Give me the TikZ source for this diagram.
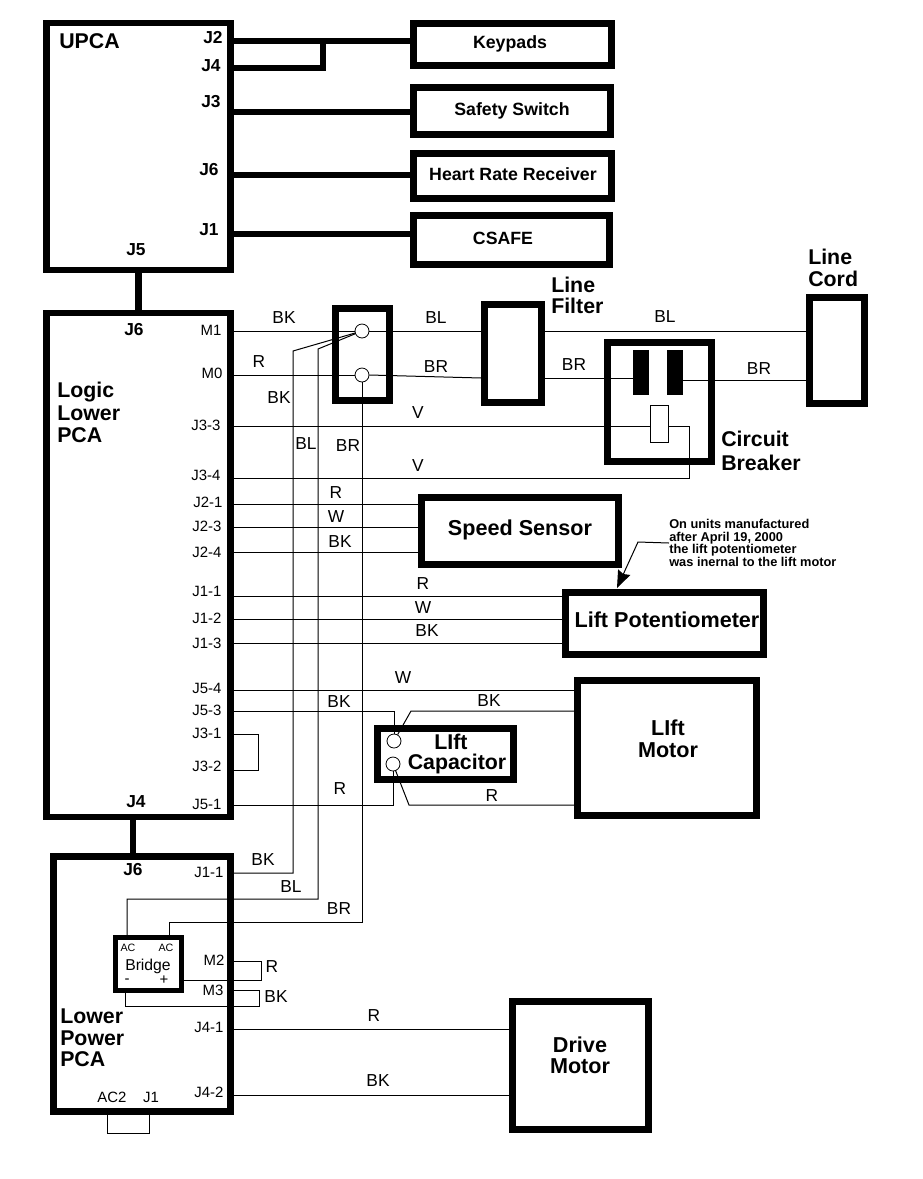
\documentclass[tikz,border=0pt]{standalone}
\usepackage{fontspec}
\setmainfont{Liberation Sans}
\usetikzlibrary{arrows.meta,shapes}

\tikzset{
  boxsize/.style 2 args={minimum width=#1*0.75pt,minimum height=#2*0.75pt},
  blockbox/.style={draw=black,line width=5pt,inner sep=0pt},
  smalltext/.style={inner sep=0pt,font=\bfseries\fontsize{13.3}{15.5}\selectfont},
  largetext/.style={inner sep=0pt,align=center,font=\bfseries\fontsize{16.2}{16}\selectfont},
  slot/.style={fill=black,draw=none,inner sep=0pt},
  terminal/.style={circle,draw=black,fill=white,line width=0.6pt,inner sep=0pt,minimum size=10.5pt},
  wire/.style={draw=black,line width=0.75pt},
  busline/.style={draw=black,line width=5pt},
  pinlabel/.style={inner sep=0pt,font=\fontsize{11.2}{11}\selectfont},
  jacklabel/.style={inner sep=0pt,font=\bfseries\fontsize{13}{13}\selectfont},
  wirelabel/.style={inner sep=0pt,font=\fontsize{13}{13}\selectfont},
  titlelabel/.style={inner sep=0pt,anchor=west,align=left,font=\bfseries\fontsize{16}{16}\selectfont}
}

\begin{document}
\begin{tikzpicture}[x=0.75pt,y=-0.75pt]
    \useasboundingbox (0,0) rectangle (922,1179);

    % left hand boards
    \node(upca)[blockbox,boxsize={184}{247}] at (138.5,146.5) {};
    \node(logic)[blockbox,boxsize={184}{504}] at (138.5,565) {};
    \node(lower)[blockbox,boxsize={177}{255}] at (142,984) {};
    \node(bridge)[blockbox,line width=3.5pt,boxsize={66}{53}] at (148.5,964) {};

    % upper right boxes
    \node(keypads)[blockbox,boxsize={198}{42}] at (512.5,44.5) {};
    \node(safety)[blockbox,boxsize={197}{47}] at (512,111) {};
    \node(heart)[blockbox,boxsize={198}{45}] at (512.5,176) {};
    \node(csafe)[blockbox,boxsize={196}{49}] at (511.5,240) {};
    \node(keypadsl)[smalltext] at (510,44) {Keypads};
    \node(safetyl)[smalltext] at (512,110.5) {Safety Switch};
    \node(heartl)[smalltext] at (513,174) {Heart Rate Receiver};
    \node(csafel)[smalltext] at (503,238) {CSAFE};

    % power entry parts
    \node(switch)[blockbox,boxsize={54}{92}] at (362.5,354.5) {};
    \node(sw1)[terminal] at (362,331) {};
    \node(sw2)[terminal] at (362,375) {};
    \node(filter)[blockbox,boxsize={57}{98}] at (513,353.5) {};
    \node(breaker)[blockbox,boxsize={104}{119}] at (659.5,402) {};
    \node(slotl)[slot,boxsize={16}{45}] at (641,372.5) {};
    \node(slotr)[slot,boxsize={16}{45}] at (675,372.5) {};
    \node(fuse)[draw=black,line width=0.75pt,inner sep=0pt,boxsize={18}{37}] at (659,423.5) {};
    \node(cord)[blockbox,boxsize={55.5}{106}] at (837,350.5) {};

    % sensors and motors
    \node(speed)[blockbox,boxsize={197}{67}] at (520,531) {};
    \node(pot)[blockbox,boxsize={198}{62}] at (664.5,623.5) {};
    \node(liftmotor)[blockbox,boxsize={179}{135}] at (667,748) {};
    \node(cap)[blockbox,boxsize={136}{51}] at (445.5,754) {};
    \node(cap1)[terminal] at (394,741) {};
    \node(cap2)[terminal] at (393,764) {};
    \node(drive)[blockbox,boxsize={136}{128}] at (580.5,1065.5) {};
    \node(speedl)[largetext] at (520,530) {Speed Sensor};
    \node(potl)[largetext] at (667,620) {Lift Potentiometer};
    \node(liftmotorl)[largetext] at (668,739) {LIft\\[0.5pt]Motor};
    \node(drivel)[largetext] at (580,1055.5) {Drive\\Motor};

    % board titles
    \node(upcal)[titlelabel] at (59,41) {UPCA};
    \node(logicl)[titlelabel] at (57,412.5) {Logic\\[0.8pt]Lower\\[0.8pt]PCA};
    \node(lowerl)[titlelabel] at (60,1038) {Lower\\Power\\PCA};
    \node(filterl)[titlelabel] at (551,295.5) {Line\\Filter};
    \node(cordl)[titlelabel] at (808,268) {Line\\Cord};
    \node(breakerl)[titlelabel] at (721,450.5) {Circuit\\[2pt]Breaker};
    \node(capl)[titlelabel,anchor=center,align=center] at (457,754) {LIft\hspace*{9pt}\\[-1pt]Capacitor};

    % jack names
    \node(j2)[jacklabel] at (213,38) {J2};
    \node(j4)[jacklabel] at (211,66) {J4};
    \node(j3)[jacklabel] at (211,102) {J3};
    \node(j6)[jacklabel] at (209,170) {J6};
    \node(j1)[jacklabel] at (209,230) {J1};
    \node(j5)[jacklabel] at (136,250) {J5};
    \node(lj6)[jacklabel] at (134,330) {J6};
    \node(lj4)[jacklabel] at (136,802) {J4};
    \node(pj6)[jacklabel] at (133,870) {J6};

    % logic board pins
    \node(m1)[pinlabel] at (211,330) {M1};
    \node(m0)[pinlabel] at (212,373) {M0};
    \node(j33)[pinlabel] at (206,425) {J3-3};
    \node(j34)[pinlabel] at (206,475) {J3-4};
    \node(j21)[pinlabel] at (208,502) {J2-1};
    \node(j23)[pinlabel] at (207,526) {J2-3};
    \node(j24)[pinlabel] at (207,552) {J2-4};
    \node(j11)[pinlabel] at (207,591) {J1-1};
    \node(j12)[pinlabel] at (207,618) {J1-2};
    \node(j13)[pinlabel] at (207,643) {J1-3};
    \node(j54)[pinlabel] at (207,688) {J5-4};
    \node(j53)[pinlabel] at (207,710) {J5-3};
    \node(j31)[pinlabel] at (207,733) {J3-1};
    \node(j32)[pinlabel] at (207,766) {J3-2};
    \node(j51)[pinlabel] at (207,804) {J5-1};

    % lower board pins
    \node(pj11)[pinlabel] at (209,872) {J1-1};
    \node(m2)[pinlabel] at (214,960) {M2};
    \node(m3)[pinlabel] at (213,990) {M3};
    \node(pj41)[pinlabel] at (209,1027) {J4-1};
    \node(pj42)[pinlabel] at (209,1092) {J4-2};
    \node(ac2)[pinlabel] at (112,1097) {AC2};
    \node(pj1)[pinlabel] at (151,1097) {J1};

    % bridge markings
    \node(acl)[pinlabel,font=\fontsize{8}{8}\selectfont] at (128,948) {AC};
    \node(acr)[pinlabel,font=\fontsize{8}{8}\selectfont] at (166,948) {AC};
    \node(bridgel)[pinlabel,font=\fontsize{11.8}{11}\selectfont] at (148,966) {Bridge};
    \node(minus)[pinlabel] at (127,981) {-};
    \node(plus)[pinlabel] at (164,980) {+};

    % thick links
    \coordinate(busj2) at (233,41);
    \coordinate(busj4) at (233,68);
    \coordinate(busj3) at (233,112);
    \coordinate(busj6) at (233,175);
    \coordinate(busj1) at (233,234);
    \coordinate(j4end) at (323,68);
    \path[busline](busj2) -- (keypads.west |- busj2);
    \path[busline](busj4) -- (j4end) -- (j4end |- busj2);
    \path[busline](busj3) -- (safety.west |- busj3);
    \path[busline](busj6) -- (heart.west |- busj6);
    \path[busline](busj1) -- (csafe.west |- busj1);
    \path[busline](upca.south) -- (upca.south |- logic.north);
    \coordinate(linkj4) at (133,820);
    \path[busline](linkj4) -- (linkj4 |- lower.north);

    % mains wiring
    \coordinate(m1p) at (233,331);
    \coordinate(m0p) at (233,375);
    \coordinate(filterbl) at (481,331);
    \coordinate(filterbr) at (545,378);
    \coordinate(cordbr) at (806,380);
    \path[wire](m1p) -- (sw1);
    \path[wire](m0p) -- (sw2);
    \path[wire](sw1) -- (filterbl);
    \path[wire](sw2.east) -- (filter.west |- filterbr);
    \path[wire](filter.east |- filterbl) -- (cord.west |- filterbl);
    \path[wire](filterbr) -- (slotl.west |- filterbr);
    \path[wire](slotr.east |- cordbr) -- (cordbr);

    % breaker trip wires
    \coordinate(j33p) at (233,426);
    \coordinate(j34p) at (233,478);
    \coordinate(fuseend) at (689,426);
    \path[wire](j33p) -- (fuse.west |- j33p);
    \path[wire](fuse.east |- j33p) -- (fuseend) -- (fuseend |- j34p) -- (j34p);

    % speed sensor and potentiometer
    \coordinate(j21p) at (233,504);
    \coordinate(j23p) at (233,527);
    \coordinate(j24p) at (233,552);
    \coordinate(j11p) at (233,596);
    \coordinate(j12p) at (233,619);
    \coordinate(j13p) at (233,643);
    \path[wire](j21p) -- (speed.west |- j21p);
    \path[wire](j23p) -- (speed.west |- j23p);
    \path[wire](j24p) -- (speed.west |- j24p);
    \path[wire](j11p) -- (pot.west |- j11p);
    \path[wire](j12p) -- (pot.west |- j12p);
    \path[wire](j13p) -- (pot.west |- j13p);

    % lift motor and capacitor
    \coordinate(j54p) at (233,690);
    \coordinate(j53p) at (233,711);
    \coordinate(j51p) at (233,805);
    \coordinate(j31p) at (233,734);
    \coordinate(j32p) at (233,770);
    \coordinate(j3loop) at (258,734);
    \coordinate(capbk) at (411,711);
    \coordinate(capr) at (409,805);
    \path[wire](j54p) -- (liftmotor.west |- j54p);
    \path[wire](j53p) -- (j53p -| cap1) -- (cap1);
    \path[wire](j51p) -- (j51p -| cap2) -- (cap2);
    \path[wire](liftmotor.west |- capbk) -- (capbk) -- (cap1);
    \path[wire](liftmotor.west |- capr) -- (capr) -- (cap2);
    \path[wire](j31p) -- (j3loop) -- (j3loop |- j32p) -- (j32p);

    % feeds from the power board
    \coordinate(bktop) at (293,351);
    \coordinate(pj11p) at (234,873);
    \coordinate(bltop) at (318,349);
    \coordinate(blbot) at (318,899);
    \coordinate(brbot) at (362,922);
    \coordinate(acin1) at (127,935);
    \coordinate(acin2) at (169,935);
    \path[wire](pj11p) -- (pj11p -| bktop) -- (bktop) -- (sw1);
    \path[wire](acin1) -- (acin1 |- blbot) -- (blbot) -- (bltop) -- (sw1);
    \path[wire](acin2) -- (acin2 |- brbot) -- (brbot) -- (sw2);

    % bridge to the board
    \coordinate(m2p) at (234,961);
    \coordinate(m2end) at (261,961);
    \coordinate(m2back) at (261,980);
    \coordinate(m3p) at (234,990);
    \coordinate(m3end) at (259,990);
    \coordinate(m3back) at (259,1006);
    \coordinate(bridgeneg) at (125,993);
    \path[wire](m2p) -- (m2end) -- (m2back) -- (bridge.east |- m2back);
    \path[wire](m3p) -- (m3end) -- (m3back) -- (bridgeneg |- m3back) -- (bridgeneg);

    % drive motor and the AC2 stub
    \coordinate(pj41p) at (234,1029);
    \coordinate(pj42p) at (234,1095);
    \coordinate(stubl) at (107,1133);
    \coordinate(stubr) at (149,1133);
    \path[wire](pj41p) -- (drive.west |- pj41p);
    \path[wire](pj42p) -- (drive.west |- pj42p);
    \path[wire](stubl |- lower.south) -- (stubl) -- (stubr) -- (stubr |- lower.south);

    % note on the potentiometer
    \node(note)[inner sep=0pt,anchor=west,align=left,font=\bfseries\fontsize{9.6}{9.4}\selectfont] at (669,543) {On units manufactured\\after April 19, 2000\\the lift potentiometer\\was inernal to the lift motor};
    \coordinate(notebend) at (638,542);
    \coordinate(notetip) at (617,588);
    \path[draw=black,line width=0.75pt,-{Stealth[length=13pt,width=10pt,inset=1.5pt]}](note.west) -- (notebend) -- (notetip);

    % wire colours
    \node(wbk1)[wirelabel] at (284,318) {BK};
    \node(wbl1)[wirelabel] at (436,318) {BL};
    \node(wr1)[wirelabel] at (259,362) {R};
    \node(wbr1)[wirelabel] at (436,367) {BR};
    \node(wbk2)[wirelabel] at (279,398) {BK};
    \node(wbl2)[wirelabel] at (306,444) {BL};
    \node(wbr2)[wirelabel] at (348,446) {BR};
    \node(wv1)[wirelabel] at (418,413) {V};
    \node(wv2)[wirelabel] at (418,466) {V};
    \node(wr2)[wirelabel] at (336,493) {R};
    \node(ww1)[wirelabel] at (336,517) {W};
    \node(wbk3)[wirelabel] at (340,542) {BK};
    \node(wbl3)[wirelabel] at (665,317) {BL};
    \node(wbr3)[wirelabel] at (574,365) {BR};
    \node(wbr4)[wirelabel] at (759,369) {BR};
    \node(wr3)[wirelabel] at (423,584) {R};
    \node(ww2)[wirelabel] at (423,608) {W};
    \node(wbk4)[wirelabel] at (427,631) {BK};
    \node(ww3)[wirelabel] at (403,678) {W};
    \node(wbk5)[wirelabel] at (339,702) {BK};
    \node(wbk6)[wirelabel] at (489,701) {BK};
    \node(wr4)[wirelabel] at (340,789) {R};
    \node(wr5)[wirelabel] at (492,796) {R};
    \node(wbk7)[wirelabel] at (263,860) {BK};
    \node(wbl4)[wirelabel] at (291,887) {BL};
    \node(wbr5)[wirelabel] at (339,909) {BR};
    \node(wr6)[wirelabel] at (272,967) {R};
    \node(wbk8)[wirelabel] at (276,997) {BK};
    \node(wr7)[wirelabel] at (374,1016) {R};
    \node(wbk9)[wirelabel] at (378,1081) {BK};

\end{tikzpicture}
\end{document}
